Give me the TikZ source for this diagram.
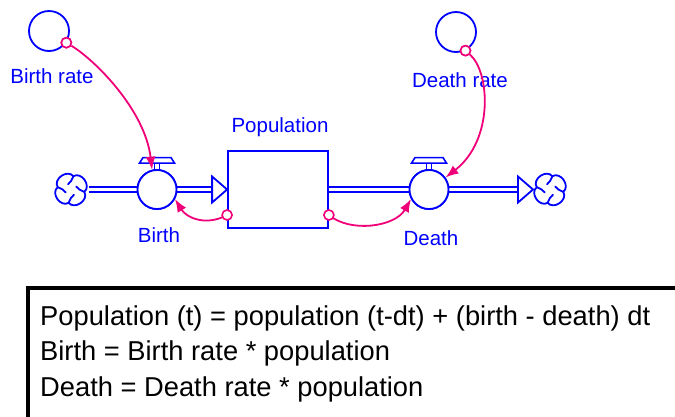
\documentclass[tikz,border=0pt]{standalone}
\usepackage{fontspec}
\setmainfont{Liberation Sans}
\usetikzlibrary{arrows.meta,calc}
\definecolor{sdblue}{RGB}{0,0,255}
\definecolor{sdpink}{RGB}{240,0,120}
\begin{document}
\begin{tikzpicture}[x=1pt,y=-1pt,
  lbl/.style={text=sdblue, font=\fontsize{20.5}{24}\selectfont, anchor=base, inner sep=0pt},
  eqn/.style={text=black, font=\fontsize{27.3}{32}\selectfont, anchor=base west, inner sep=0pt},
  valve/.style={circle, draw=sdblue, line width=1.8pt, fill=white, minimum size=39pt, inner sep=0pt},
  aux/.style={circle, draw=sdblue, line width=1.8pt, fill=white, minimum size=40pt, inner sep=0pt},
  stockbox/.style={rectangle, draw=sdblue, line width=1.8pt, fill=white, minimum width=100pt, minimum height=77pt, inner sep=0pt},
  pipe/.style={draw=sdblue, line width=1.6pt, double=white, double distance=3pt},
  flowhead/.style={draw=sdblue, line width=1.8pt, fill=white, line join=miter},
  cloudnode/.style={circle, minimum size=36pt, inner sep=0pt},
  cloudline/.style={draw=sdblue, line width=1.8pt, fill=white, line join=round},
  swirl/.style={draw=sdblue, line width=1.8pt, line cap=round},
  handle/.style={draw=sdblue, line width=1.6pt, fill=white},
  conn/.style={draw=sdpink, line width=1.8pt, -{Latex[length=13pt,width=10pt]}},
  tap/.style={circle, draw=sdpink, line width=1.6pt, fill=white, minimum size=10pt, inner sep=0pt}
]
\useasboundingbox (0,0) rectangle (675,416);
\clip (0,0) rectangle (675,416);

% stock, valves, clouds
\node[stockbox] (st) at (278,189.5) {};
\node[cloudnode] (src) at (71,189.5) {};
\node[cloudnode] (snk) at (550,189.5) {};

% pipes
\coordinate (inhead) at ($(st.west)+(-15,0)$);
\coordinate (outhead) at (518,189.5);
\node[valve] (bv) at (157,189.5) {};
\node[valve] (dv) at (429,189.5) {};
\draw[pipe] (src.east) -- (bv.west);
\draw[pipe] (bv.east) -- (inhead);
\draw[pipe] (st.east) -- (dv.west);
\draw[pipe] (dv.east) -- (outhead);
\node[valve] at (bv) {};
\node[valve] at (dv) {};
\draw[flowhead] (st.west) -- ($(inhead)+(0,-13)$) -- ($(inhead)+(0,13)$) -- cycle;
\draw[flowhead] ($(outhead)+(15,0)$) -- ($(outhead)+(0,-13)$) -- ($(outhead)+(0,13)$) -- cycle;

% valve handles
\foreach \v in {bv,dv}{
  \draw[handle] ($(\v.north)+(-2.5,0.5)$) rectangle ($(\v.north)+(2.5,-6)$);
  \draw[handle] ($(\v.north)+(-14,-11.5)$) -- ($(\v.north)+(14,-11.5)$) -- ($(\v.north)+(17.5,-6)$) -- ($(\v.north)+(-17.5,-6)$) -- cycle;
}

% clouds: four lobes with pinwheel strokes
\foreach \c in {src,snk}{
  \draw[cloudline] ($(\c)+(100:13.5)$)
    .. controls ($(\c)+(120:21)$) and ($(\c)+(170:21)$) .. ($(\c)+(190:13.5)$)
    .. controls ($(\c)+(210:21)$) and ($(\c)+(260:21)$) .. ($(\c)+(280:13.5)$)
    .. controls ($(\c)+(300:21)$) and ($(\c)+(350:21)$) .. ($(\c)+(10:13.5)$)
    .. controls ($(\c)+(30:21)$) and ($(\c)+(80:21)$) .. ($(\c)+(100:13.5)$) -- cycle;
  \foreach \a in {100,190,280,10}{
    \draw[swirl] ($(\c)+(\a:13.5)$) .. controls ($(\c)+(\a-10:8)$) .. ($(\c)+(\a-40:6)$);
  }
}

% auxiliaries
\node[aux] (br) at (49,31) {};
\node[aux] (dr) at (456,32) {};

% labels
\node[lbl] (lbr) at (52,83) {Birth rate};
\node[lbl] (ldr) at (460,87) {Death rate};
\node[lbl] (lst) at (280,132) {Population};
\node[lbl] (lbv) at (159,242) {Birth};
\node[lbl] (ldv) at (431,245) {Death};

% connectors
\node[tap] (brtap) at (br.-34) {};
\node[tap] (drtap) at (dr.-63) {};
\coordinate (stl) at ($(st.west)+(0,25.5)$);
\coordinate (str) at ($(st.east)+(0,25.5)$);
\draw[conn] (brtap) .. controls (95,60) and (145,110) .. (bv.104);
\draw[conn] (drtap) .. controls (490,72) and (494,140) .. (dv.36);
\draw[conn] (stl) .. controls (205,227) and (186,217) .. (bv.-28);
\draw[conn] (str) .. controls (350,233) and (395,227) .. (dv.-152);
\node[tap] (stltap) at (stl) {};
\node[tap] (strtap) at (str) {};
\node[tap] at (brtap) {};
\node[tap] at (drtap) {};

% equations box
\coordinate (fbl) at (28,430);
\coordinate (ftl) at (28,288);
\coordinate (ftr) at (690,288);
\draw[line width=3.5pt] (fbl) -- (ftl) -- (ftr);
\node[eqn] (e1) at (40,325) {Population (t) = population (t-dt) + (birth - death) dt};
\node[eqn] (e2) at (40,360.5) {Birth = Birth rate * population};
\node[eqn] (e3) at (40,396.5) {Death = Death rate * population};
\end{tikzpicture}
\end{document}
